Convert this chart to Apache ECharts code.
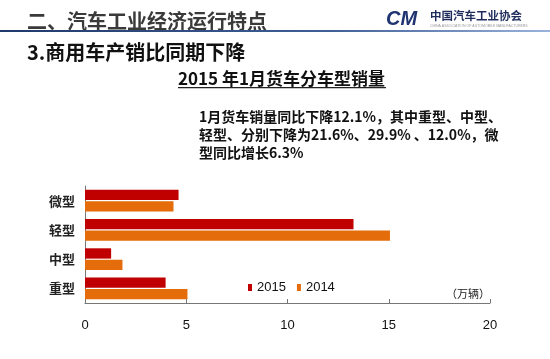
<!DOCTYPE html>
<html>
<head>
<meta charset="utf-8">
<script src="https://cdn.jsdelivr.net/npm/echarts@6/dist/echarts.min.js"></script>
<style>
html,body{margin:0;padding:0;background:#fff;}
#chart{width:550px;height:359px;}
</style>
</head>
<body>
<div id="chart"></div>
<script>
// ---- data ----
const categories = ['重型', '中型', '轻型', '微型'];
const sales2015 = [3.98, 1.29, 13.26, 4.62];
const sales2014 = [5.06, 1.85, 15.06, 4.37];
const seriesNames = ['2015', '2014'];
const xTicks = [0, 5, 10, 15, 20];
const unitLabel = '（万辆）';
const headerText = '二、汽车工业经济运行特点';
const subHeaderText = '3.商用车产销比同期下降';
const chartTitle = '2015 年1月货车分车型销量';
const noteLines = [
  '1月货车销量同比下降12.1%，其中重型、中型、',
  '轻型、分别下降为21.6%、29.9% 、12.0%，微',
  '型同比增长6.3%'
];
const logoName = '中国汽车工业协会';
const logoSub = 'CHINA ASSOCIATION OF AUTOMOBILE MANUFACTURERS';

const CJK = "'Noto Sans CJK SC', 'Liberation Sans', sans-serif";
const LAT = "'Liberation Sans', 'Noto Sans CJK SC', sans-serif";

const chart = echarts.init(document.getElementById('chart'), null, {renderer: 'canvas'});

const graphics = [
  {type: 'text', left: 27, top: 11, style: {text: headerText, font: "bold 20px " + CJK, fill: '#3a3a3a'}},
  {type: 'rect', left: 0, top: 30, shape: {width: 550, height: 2},
   style: {fill: new echarts.graphic.LinearGradient(0, 0, 1, 0, [
     {offset: 0, color: '#1e3a6c'}, {offset: 0.6, color: '#3f5f96'}, {offset: 1, color: '#9bb3dc'}])}},
  {type: 'text', left: 386, top: 9, style: {text: 'CM', font: "italic 900 20px " + LAT, fill: '#1f3470'}},
  {type: 'text', left: 430, top: 10, style: {text: logoName, font: "bold 11.5px " + CJK, fill: '#1f2d5c'}},
  {type: 'text', left: 430, top: 24, style: {text: logoSub, font: "3.5px " + LAT, fill: '#999'}},
  {type: 'text', left: 27, top: 42, style: {text: subHeaderText, font: "bold 20px " + CJK, fill: '#111'}},
  {type: 'text', left: 178, top: 70, style: {text: chartTitle, font: "bold 17px " + CJK, fill: '#111'}},
  {type: 'rect', left: 178, top: 87, shape: {width: 208, height: 1.2}, style: {fill: '#222'}},
  {type: 'text', left: 199, top: 108,
   style: {text: noteLines.join('\n'), font: "bold 14px " + CJK, lineHeight: 18, fill: '#111'}},
  {type: 'text', right: 60, top: 288, style: {text: unitLabel, font: "11px " + CJK, fill: '#222'}}
];

chart.setOption({
  animation: false,
  backgroundColor: '#fff',
  color: ['#C00000', '#E46C0A'],
  grid: {left: 85, right: 60, top: 186, bottom: 56, containLabel: false},
  legend: {
    data: seriesNames,
    left: 243, top: 276,
    itemWidth: 4, itemHeight: 7, itemGap: 11,
    icon: 'rect',
    textStyle: {fontFamily: LAT, fontSize: 13, color: '#111', padding: [0, 0, 0, 0]}
  },
  xAxis: {
    type: 'value',
    min: xTicks[0], max: xTicks[xTicks.length - 1], interval: 5,
    axisLine: {show: true, lineStyle: {color: '#777', width: 1}},
    axisTick: {show: true, inside: true, length: 4, lineStyle: {color: '#777'}},
    splitLine: {show: false},
    axisLabel: {margin: 16, fontFamily: LAT, fontSize: 13, color: '#111'}
  },
  yAxis: {
    type: 'category',
    data: categories,
    axisLine: {show: true, lineStyle: {color: '#777', width: 1}},
    axisTick: {show: false},
    axisLabel: {margin: 10, fontFamily: CJK, fontSize: 13, fontWeight: 'bold', color: '#222'}
  },
  series: [
    {name: seriesNames[0], type: 'bar', data: sales2015, barCategoryGap: '26%', barGap: '10%'},
    {name: seriesNames[1], type: 'bar', data: sales2014, barCategoryGap: '26%', barGap: '10%'}
  ],
  graphic: graphics
});
</script>
</body>
</html>
